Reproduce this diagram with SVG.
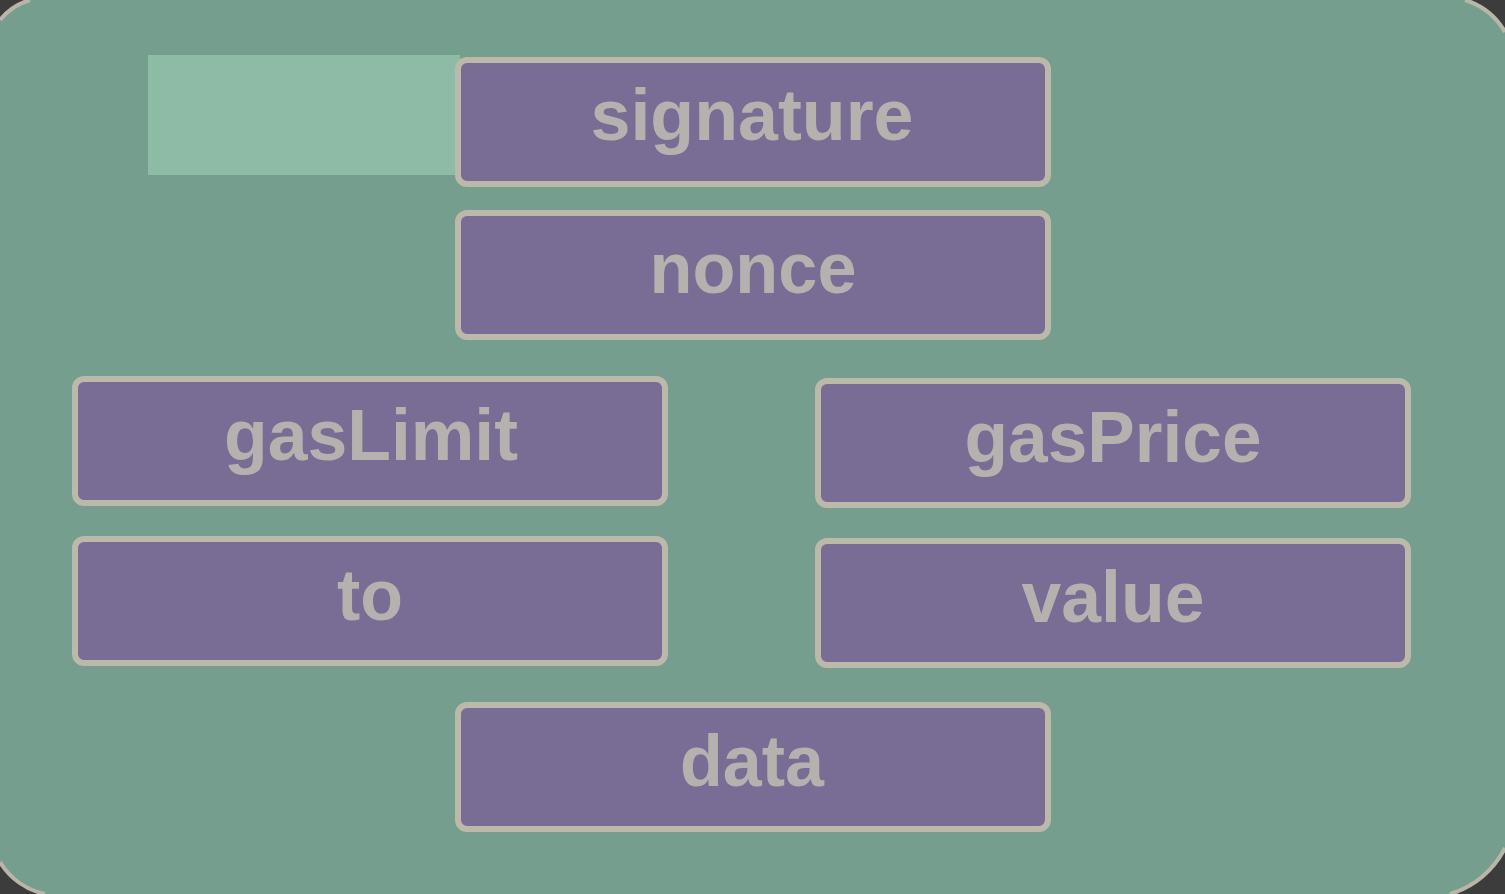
<svg xmlns="http://www.w3.org/2000/svg" width="1505" height="894" viewBox="0 0 1505 894">
<style>
.bg{fill:#769e8e}
.edge{fill:none;stroke:#b9b5aa;stroke-width:4}
.box{fill:#7a6d95;stroke:#bcb8aa;stroke-width:6}
.lbl{font-family:"Liberation Sans",Arial,sans-serif;font-weight:bold;font-size:73px;fill:#b4b1ae;text-anchor:middle}
</style>
<rect x="0" y="0" width="1505" height="894" fill="#3c3c3c"/>
<path class="bg" d="M30,0 L1465,0 A70 70 0 0 1 1505,32 L1505,848 A90 90 0 0 1 1450,894 L45,894 A70 70 0 0 1 0,862 L0,20 A60 60 0 0 1 30,0 Z"/>
<path class="edge" d="M0,20 A60 60 0 0 1 30,0"/>
<path class="edge" d="M1465,0 A70 70 0 0 1 1505,32"/>
<path class="edge" d="M1505,848 A90 90 0 0 1 1450,894"/>
<path class="edge" d="M45,894 A70 70 0 0 1 0,862"/>
<rect x="148" y="55" width="312" height="120" fill="#8dbba6"/>
<g id="signature"><rect class="box" x="458" y="60" width="590" height="124" rx="9"/><text class="lbl" x="752" y="140" textLength="323" lengthAdjust="spacingAndGlyphs">signature</text></g>
<g id="nonce"><rect class="box" x="458" y="213" width="590" height="124" rx="9"/><text class="lbl" x="753" y="293" textLength="207" lengthAdjust="spacingAndGlyphs">nonce</text></g>
<g id="gasLimit"><rect class="box" x="75" y="379" width="590" height="124" rx="9"/><text class="lbl" x="371" y="460" textLength="294" lengthAdjust="spacingAndGlyphs">gasLimit</text></g>
<g id="gasPrice"><rect class="box" x="818" y="381" width="590" height="124" rx="9"/><text class="lbl" x="1113" y="462" textLength="297" lengthAdjust="spacingAndGlyphs">gasPrice</text></g>
<g id="to"><rect class="box" x="75" y="539" width="590" height="124" rx="9"/><text class="lbl" x="370" y="620" textLength="66" lengthAdjust="spacingAndGlyphs">to</text></g>
<g id="value"><rect class="box" x="818" y="541" width="590" height="124" rx="9"/><text class="lbl" x="1113" y="622" textLength="183" lengthAdjust="spacingAndGlyphs">value</text></g>
<g id="data"><rect class="box" x="458" y="705" width="590" height="124" rx="9"/><text class="lbl" x="752" y="786" textLength="144" lengthAdjust="spacingAndGlyphs">data</text></g>
<g id="connectors"/>
</svg>
